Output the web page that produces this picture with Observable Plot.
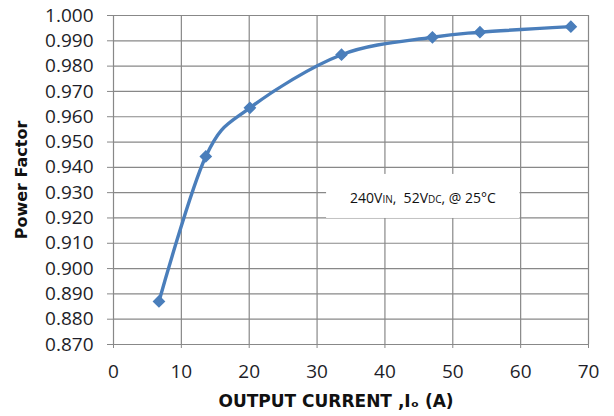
<!DOCTYPE html>
<html>
<head>
<meta charset="utf-8">
<script src="https://cdn.jsdelivr.net/npm/d3@7"></script>
<script src="https://cdn.jsdelivr.net/npm/@observablehq/plot@0.6"></script>
<style>
  html, body { margin: 0; padding: 0; background: #fff; }
</style>
</head>
<body>
<div id="chart"></div>
<script>
// Data
const current = [6.7, 13.6, 20.1, 33.6, 47.0, 54.0, 67.4];
const powerFactor = [0.887, 0.9443, 0.9635, 0.9845, 0.9914, 0.9934, 0.9956];
const xTicks = [0, 10, 20, 30, 40, 50, 60, 70];
const yTicks = [0.870, 0.880, 0.890, 0.900, 0.910, 0.920, 0.930, 0.940, 0.950, 0.960, 0.970, 0.980, 0.990, 1.000];
const xLabel = "OUTPUT CURRENT ,Iₒ (A)";
const yLabel = "Power Factor";
// annotation box in data units
const noteBox = [{x1: 31.4, x2: 59.9, y1: 0.9198, y2: 0.9372, xc: 45.6, yc: 0.9275}];

const data = current.map((x, i) => ({x, y: powerFactor[i]}));

const gridColor = "#888888";
const lineColor = "#4a7ebb";

const chart = Plot.plot({
  width: 614,
  height: 416,
  marginLeft: 113,
  marginRight: 26,
  marginTop: 15,
  marginBottom: 72,
  style: {fontFamily: "'Open Sans', sans-serif", fontSize: "19px", color: "#1e1e28", background: "#fff"},
  x: {domain: [0, 70]},
  y: {domain: [0.870, 1.000]},
  marks: [
    Plot.gridX(xTicks, {stroke: gridColor, strokeOpacity: 1, strokeWidth: 1.2}),
    Plot.gridY(yTicks, {stroke: gridColor, strokeOpacity: 1, strokeWidth: 1.2}),
    Plot.rect(noteBox, {x1: "x1", x2: "x2", y1: "y1", y2: "y2", fill: "#fff"}),
    Plot.axisX(xTicks, {tickSize: 4, tickPadding: 16, stroke: gridColor, label: xLabel, labelAnchor: "center", labelOffset: 62, labelArrow: "none"}),
    Plot.axisY(yTicks, {tickSize: 6, tickPadding: 14, stroke: gridColor, tickFormat: d3.format(".3f"), label: yLabel, labelAnchor: "center", labelOffset: 98, labelArrow: "none"}),
    Plot.line(data, {x: "x", y: "y", curve: "cardinal", tension: 0, stroke: lineColor, strokeWidth: 3.4}),
    Plot.dot(data, {x: "x", y: "y", symbol: "diamond2", r: 4.8, fill: lineColor, stroke: lineColor}),
    Plot.text(noteBox, {x: "xc", y: "yc", text: () => "240VIN, 52VDC, @ 25°C", fontSize: 14, fill: "#111", className: "note"})
  ]
});

document.getElementById("chart").appendChild(chart);

// style the axis labels
d3.select(chart).selectAll('[aria-label="x-axis label"] text')
  .attr("font-family", "'DejaVu Sans', sans-serif")
  .attr("font-weight", "bold")
  .attr("font-size", 17)
  .attr("dx", -15)
  .attr("fill", "#111");
d3.select(chart).selectAll('[aria-label="y-axis label"] text')
  .attr("font-family", "'DejaVu Sans', sans-serif")
  .attr("font-weight", "bold")
  .attr("font-size", 16)
  .attr("fill", "#111");

// subscripts in annotation
d3.select(chart).selectAll(".note text").each(function () {
  const t = d3.select(this);
  t.text(null);
  t.append("tspan").text("240V");
  t.append("tspan").attr("font-size", 10).text("IN");
  t.append("tspan").text(",  52V");
  t.append("tspan").attr("font-size", 10).text("DC");
  t.append("tspan").text(", @ 25°C");
});
</script>
</body>
</html>
